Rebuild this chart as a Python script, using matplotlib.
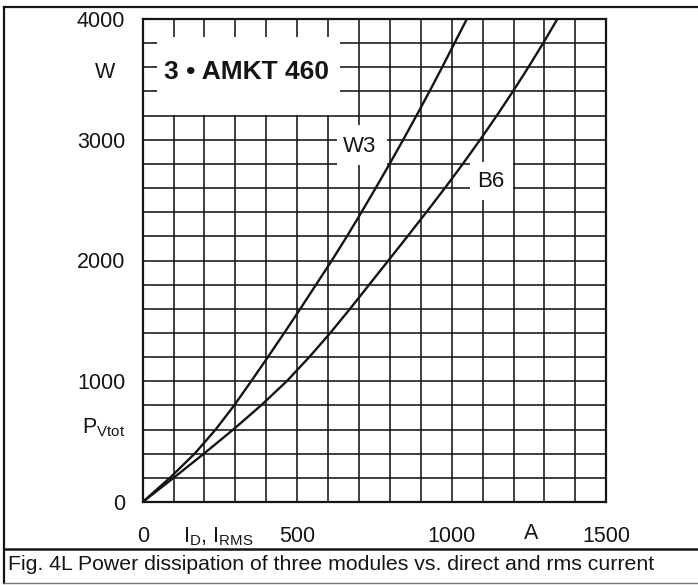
import matplotlib
matplotlib.use("Agg")
import matplotlib.pyplot as plt
from matplotlib.lines import Line2D
from matplotlib.patches import Rectangle

plt.rcParams['font.family'] = ['Liberation Sans', 'DejaVu Sans']
plt.rcParams['mathtext.fontset'] = 'custom'
plt.rcParams['mathtext.rm'] = 'Liberation Sans'
plt.rcParams['mathtext.it'] = 'Liberation Sans'

# current (A) where each curve crosses the 200 W grid lines
power_levels = [0, 200, 400, 600, 800, 1000, 1200, 1400, 1600, 1800, 2000,
                2200, 2400, 2600, 2800, 3000, 3200, 3400, 3600, 3800, 4000]
w3_current = [0, 88, 168, 236, 296, 351, 405, 458, 510, 561, 612,
              661, 708, 754, 799, 843, 886, 928, 969, 1009, 1049]
b6_current = [0, 100, 198, 293, 383, 466, 539, 607, 671, 733, 795,
              857, 918, 978, 1036, 1092, 1146, 1198, 1248, 1296, 1342]

x_ticks = [0, 500, 1000, 1500]
y_ticks = [0, 1000, 2000, 3000, 4000]

W, H = 698, 585
fig = plt.figure(figsize=(W / 100, H / 100), dpi=100)
ax = fig.add_axes([142.7 / W, 1 - 502 / H, 463.5 / W, 483 / H])

ink = '#151515'
ax.set_xlim(0, 1500)
ax.set_ylim(0, 4000)
ax.set_xticks(x_ticks)
ax.set_yticks(y_ticks)
ax.set_xticks(range(0, 1501, 100), minor=True)
ax.set_yticks(range(0, 4001, 200), minor=True)
ax.set_axisbelow(True)
ax.grid(which='both', color=ink, lw=1.15)
ax.tick_params(which='both', length=0, labelsize=15.5, colors=ink)
ax.tick_params(axis='x', pad=17)
ax.tick_params(axis='y', pad=12.5)
for s in ax.spines.values():
    s.set_linewidth(1.6)
    s.set_color(ink)

ax.plot(w3_current, power_levels, color=ink, lw=1.7, zorder=3)
ax.plot(b6_current, power_levels, color=ink, lw=1.7, zorder=3)

# white boxes behind the labels
ax.add_patch(Rectangle((47, 3205), 593, 650, fc='white', ec='none', zorder=1))
ax.add_patch(Rectangle((628, 2790), 162, 330, fc='white', ec='none', zorder=1))
ax.add_patch(Rectangle((1058, 2500), 139, 315, fc='white', ec='none', zorder=1))

ax.text(335, 3503, '3 • AMKT 460', fontsize=19, fontweight='bold', ha='center',
        va='baseline', color=ink, zorder=4)
ax.text(703, 2901, 'W3', fontsize=16, ha='center', va='baseline', color=ink, zorder=4)
ax.text(1127, 2606, 'B6', fontsize=16, ha='center', va='baseline', color=ink, zorder=4)

# axis names placed in the tick label rows
ax.text(-90, 3557, 'W', fontsize=15.5, ha='right', va='center', color=ink, clip_on=False)
ax.text(-55, 613, r'P$_{\rm Vtot}$', fontsize=15.5, ha='right', va='center', color=ink, clip_on=False)
ax.text(131, -290, r'I$_{\rm D}$, I$_{\rm RMS}$', fontsize=15.5, ha='left', va='center',
        color=ink, clip_on=False)
ax.text(1256, -265, 'A', fontsize=15.5, ha='center', va='center', color=ink, clip_on=False)

# frame and caption
lines = [
    Line2D([4 / W, 1], [1 - 7 / H, 1 - 7 / H], lw=1.6, color=ink),
    Line2D([4 / W, 4 / W], [1 - 7 / H, 1 - 583 / H], lw=1.6, color=ink),
    Line2D([4 / W, 1], [1 - 549 / H, 1 - 549 / H], lw=1.8, color=ink),
    Line2D([4 / W, 1], [1 - 583 / H, 1 - 583 / H], lw=1.0, color='#777777'),
]
for ln in lines:
    fig.add_artist(ln)
fig.text(8 / W, 1 - 565 / H, 'Fig. 4L Power dissipation of three modules vs. direct and rms current',
         fontsize=15.3, ha='left', va='center', color=ink)

fig.savefig('out.png', dpi=100)
